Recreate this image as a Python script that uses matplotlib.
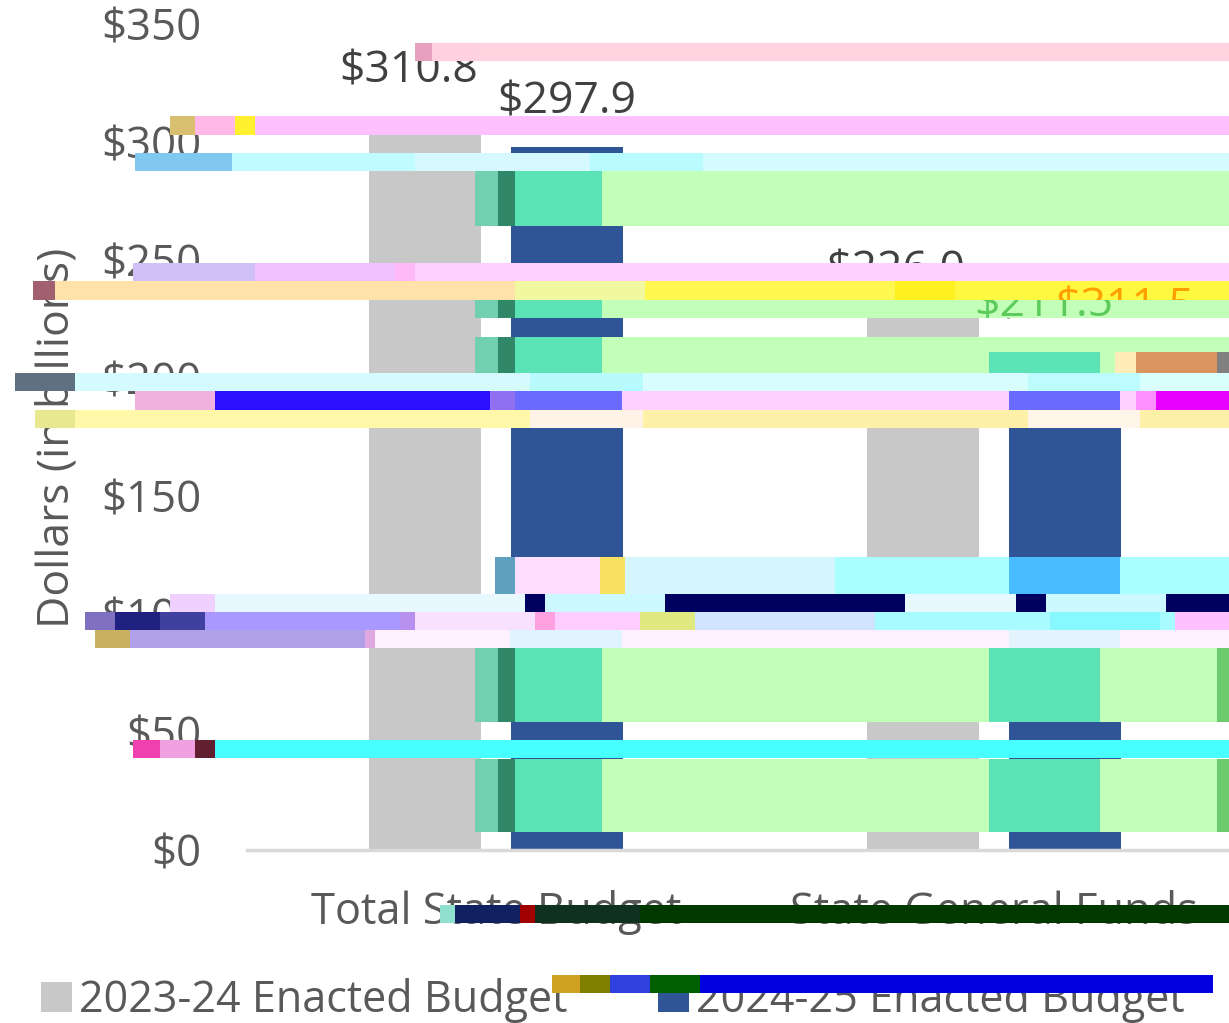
import matplotlib
matplotlib.use("Agg")
import numpy as np
import matplotlib.pyplot as plt
from matplotlib.patches import Rectangle

W, H = 1229, 1023

categories = ["Total State Budget", "State General Funds"]
enacted_2023 = [310.8, 226.0]
enacted_2024 = [297.9, 211.5]
y_ticks = [0, 50, 100, 150, 200, 250, 300, 350]

TEAL = "#5CE3B5"
LGREEN = "#C2FFB8"

# corrupted strips across the reference: (top, bottom, [(left, right, colour), ...]) in pixels
strips = [
    (43, 61, [(415, 432, "#E8A0C0"), (432, 475, "#FFD0E0"), (475, W, "#FFD2E0")]),
    (116, 135, [(170, 195, "#D8C070"), (195, 235, "#FFB8E8"), (235, 255, "#FFF030"), (255, W, "#FFC0FF")]),
    (153, 171, [(135, 232, "#80C8F0"), (232, 415, "#BFFBFF"), (415, 590, "#D5F9FF"),
                (590, 703, "#B8FCFF"), (703, W, "#D5FBFF")]),
    (171, 226, [(475, 498, "#70D0B0"), (498, 515, "#308868"), (515, 602, TEAL), (602, W, LGREEN)]),
    (263, 281, [(133, 255, "#D0C0F8"), (255, 395, "#F0C0FF"), (395, 415, "#FFB8F8"), (415, W, "#FFD0FF")]),
    (281, 300, [(33, 55, "#A06070"), (55, 515, "#FFE2AA"), (515, 645, "#F0F8A0"), (645, 895, "#FFF850"),
                (895, 955, "#FFF020"), (955, W, "#FFF840")]),
    (300, 318, [(475, 498, "#70D0B0"), (498, 515, "#308868"), (515, 602, TEAL), (602, W, LGREEN)]),
    (337, 352, [(475, 498, "#70D0B0"), (498, 515, "#308868"), (515, 602, TEAL), (602, W, LGREEN)]),
    (352, 373, [(475, 498, "#70D0B0"), (498, 515, "#308868"), (515, 602, TEAL), (602, 989, LGREEN),
                (989, 1100, TEAL), (1100, 1115, LGREEN), (1115, 1136, "#FFECB8"),
                (1136, 1217, "#D9945F"), (1217, W, "#808080")]),
    (373, 391, [(15, 75, "#607080"), (75, 530, "#D5FBFF"), (530, 643, "#B8FBFF"), (643, 1028, "#D8FDFF"),
                (1028, 1140, "#BCFCFF"), (1140, W, "#DAFFFF")]),
    (391, 410, [(135, 215, "#F0B0E0"), (215, 490, "#2B10FF"), (490, 515, "#9070F0"), (515, 622, "#6A6AFF"),
                (622, 1009, "#FFD0FF"), (1009, 1120, "#6A6AFF"), (1120, 1136, "#FFD0FF"),
                (1136, 1156, "#FF90FF"), (1156, W, "#E800FF")]),
    (410, 428, [(35, 75, "#E8E890"), (75, 530, "#FFF8A8"), (530, 643, "#FFF3E8"), (643, 1028, "#FFF0A8"),
                (1028, 1140, "#FFF5E8"), (1140, W, "#FFF0A8")]),
    (557, 594, [(495, 515, "#60A0C0"), (515, 600, "#FFDDFF"), (600, 625, "#F8E060"), (625, 835, "#D5F5FF"),
                (835, 1009, "#AAFFFF"), (1009, 1120, "#48BCFF"), (1120, W, "#AAFFFF")]),
    (594, 612, [(170, 215, "#F0D0FF"), (215, 525, "#E8F8FF"), (525, 545, "#000060"), (545, 665, "#CCF8FF"),
                (665, 905, "#000060"), (905, 1016, "#E8F8FF"), (1016, 1046, "#000060"),
                (1046, 1166, "#CCF8FF"), (1166, W, "#000060")]),
    (612, 630, [(85, 115, "#8070C0"), (115, 160, "#202080"), (160, 205, "#4040A0"), (205, 400, "#A898FF"),
                (400, 415, "#B890F0"), (415, 535, "#F8E0FF"), (535, 555, "#FFA0E0"), (555, 640, "#FFCCFF"),
                (640, 695, "#E0E880"), (695, 875, "#D0E4FF"), (875, 1050, "#A8FBFF"),
                (1050, 1160, "#88F8FF"), (1160, 1175, "#A8FBFF"), (1175, W, "#FFC0FF")]),
    (630, 648, [(95, 130, "#C8B060"), (130, 365, "#B0A0E8"), (365, 375, "#E0A8E0"), (375, 510, "#FFF0FF"),
                (510, 622, "#E0F4FF"), (622, 1009, "#FFF0FF"), (1009, 1120, "#E4F4FF"), (1120, W, "#FFF0FF")]),
    (648, 722, [(475, 498, "#70D0B0"), (498, 515, "#308868"), (515, 602, TEAL), (602, 989, LGREEN),
                (989, 1100, TEAL), (1100, 1217, LGREEN), (1217, W, "#6CCB6C")]),
    (740, 758, [(133, 160, "#F040B0"), (160, 195, "#F0A0E0"), (195, 215, "#602030"), (215, W, "#48FFFF")]),
    (759, 832, [(475, 498, "#70D0B0"), (498, 515, "#308868"), (515, 602, TEAL), (602, 989, LGREEN),
                (989, 1100, TEAL), (1100, 1217, LGREEN), (1217, W, "#6CCB6C")]),
    (905, 923, [(440, 455, "#90E0D0"), (455, 520, "#102060"), (520, 535, "#A00000"), (535, 640, "#103020"),
                (640, W, "#003800")]),
    (975, 993, [(552, 580, "#D0A020"), (580, 610, "#808000"), (610, 650, "#3040E0"), (650, 700, "#006000"),
                (700, 1213, "#0000E0")]),
]

plt.rcParams["font.family"] = ["Open Sans", "DejaVu Sans"]
TXT = "#595959"
DARK = "#404040"

fig = plt.figure(figsize=(W / 100, H / 100), dpi=100)
ax = fig.add_axes([247 / W, (H - 850) / H, (W - 247) / W, (850 - 24) / H])

x = np.arange(len(categories))
b1 = ax.bar(x - 0.1426, enacted_2023, 0.224, color="#C8C8C8", label="2023-24 Enacted Budget")
b2 = ax.bar(x + 0.1426, enacted_2024, 0.224, color="#2F5597", label="2024-25 Enacted Budget")

ax.set_xlim(-0.5, 1.472)
ax.set_ylim(0, 350)
ax.set_yticks(y_ticks)
ax.set_yticklabels([f"${v}" for v in y_ticks], color=TXT, fontsize=31.5)
ax.set_xticks(x)
ax.set_xticklabels(categories, color=TXT, fontsize=31.2)
ax.tick_params(axis="both", length=0)
ax.tick_params(axis="y", pad=33)
ax.tick_params(axis="x", pad=29)
for s in ["top", "left", "right"]:
    ax.spines[s].set_visible(False)
ax.spines["bottom"].set_color("#D9D9D9")
ax.spines["bottom"].set_linewidth(2.5)

# the grey labels sit left of their bars in the reference
for bars, shifts in ((b1, (-16, -27)), (b2, (0, 0))):
    for r, dx in zip(bars, shifts):
        ax.annotate(f"${r.get_height():.1f}", (r.get_x() + r.get_width() / 2, r.get_height()),
                    xytext=(dx * 0.72, 16.5), textcoords="offset points", ha="center", va="bottom",
                    color=DARK, fontsize=32)

fig.text(57 / W, 1 - 438 / H, "Dollars (in billions)", rotation=90, ha="center", va="center",
         color=TXT, fontsize=32)

leg = fig.legend(handles=[b1, b2], loc="lower left", bbox_to_anchor=(2 / W, -0.038), ncols=2,
                 frameon=False, fontsize=31.1, labelcolor=TXT, handlelength=0.72, handleheight=0.72,
                 handletextpad=0.16, columnspacing=2.1)
leg.set_zorder(1)

for top, bottom, segs in strips:
    for left, right, col in segs:
        fig.add_artist(Rectangle((left / W, 1 - bottom / H), (right - left) / W, (bottom - top) / H,
                                 transform=fig.transFigure, facecolor=col, edgecolor="none", zorder=5))

# the two label fragments that show through the strips
for lbl, col, xc, yc, top, bottom in [("$211.5", "#5CCB5C", 1044, 305, 300, 318),
                                      ("$311.5", "#FFA000", 1125, 308, 281, 300)]:
    t = fig.text(xc / W, 1 - yc / H, lbl, ha="center", va="center", color=col, fontsize=32, zorder=6)
    t.set_clip_path(Rectangle((0, H - bottom), W, bottom - top, transform=None))

fig.savefig("out.png", dpi=100)
